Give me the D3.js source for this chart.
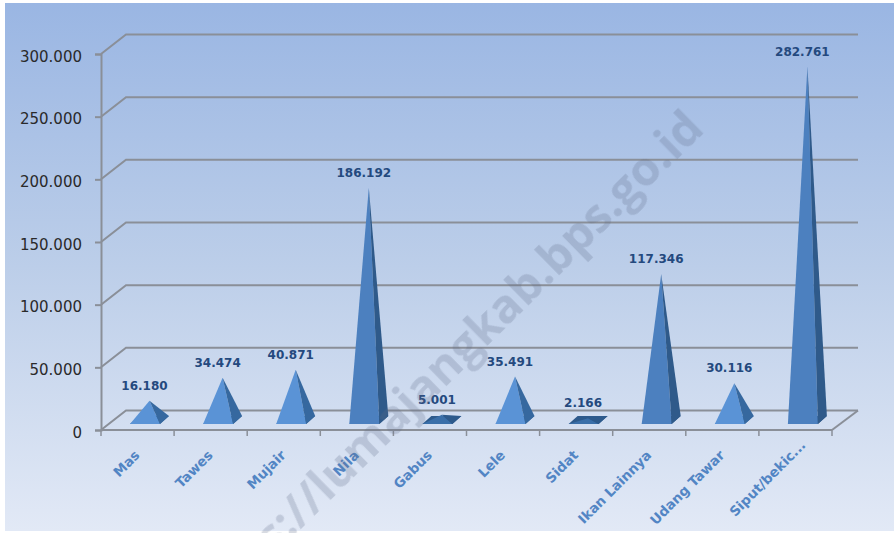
<!DOCTYPE html>
<html><head><meta charset="utf-8">
<script src="https://cdnjs.cloudflare.com/ajax/libs/d3/7.8.5/d3.min.js"></script>
<style>html,body{margin:0;padding:0;background:#fff}svg{display:block;filter:blur(0.4px)}</style>
</head><body><svg id="c" width="895" height="533"></svg>
<script>
const categories=["Mas","Tawes","Mujair","Nila","Gabus","Lele","Sidat","Ikan Lainnya","Udang Tawar","Siput/bekic..."];
const values=[16180,34474,40871,186192,5001,35491,2166,117346,30116,282761];
const valueLabels=["16.180","34.474","40.871","186.192","5.001","35.491","2.166","117.346","30.116","282.761"];
const yTicks=[0,50000,100000,150000,200000,250000,300000];
const fmt=d=>d===0?"0":d3.format(",")(d).replace(/,/g,".");

const svg=d3.select("#c");
const defs=svg.append("defs");
const bg=defs.append("linearGradient").attr("id","bg").attr("x1",0).attr("y1",0).attr("x2",0).attr("y2",1);
bg.append("stop").attr("offset",0).attr("stop-color","#9ab6e3");
bg.append("stop").attr("offset",.5).attr("stop-color","#bccee9");
bg.append("stop").attr("offset",1).attr("stop-color","#e2e9f6");
svg.append("rect").attr("x",5).attr("y",3).attr("width",889).attr("height",528).attr("fill","url(#bg)");

const x=d3.scaleBand().domain(categories).range([101,832]);
const y=d3.scaleLinear().domain([0,300000]).range([430,54]);
const depthX=25,depthY=19.5,gridCol="#8a8f98";

const grid=svg.append("g").attr("fill","none").attr("stroke",gridCol).attr("stroke-width",2);
grid.selectAll("path").data(yTicks).join("path")
 .attr("d",d=>`M${x.range()[0]},${y(d)}L${x.range()[0]+depthX},${y(d)-depthY}L${x.range()[1]+depthX+1},${y(d)-depthY}`);
grid.append("path").attr("d",`M${x.range()[1]},${y(0)}L${x.range()[1]+depthX+1},${y(0)-depthY}`);

// axes
const ax=svg.append("g").attr("transform","translate(101,0)")
 .call(d3.axisLeft(y).tickValues(yTicks).tickFormat(fmt).tickSize(6).tickPadding(13));
ax.select(".domain").attr("stroke",gridCol).attr("stroke-width",2);
ax.selectAll("line").attr("stroke",gridCol).attr("stroke-width",2);
ax.selectAll("text").attr("font-family","DejaVu Sans").attr("font-size",15).attr("fill","#2a2a2a").attr("dy","0.47em");

const bx=svg.append("g").attr("transform",`translate(0,${y(0)})`)
 .call(d3.axisBottom(x).tickSize(0).tickFormat(""));
bx.select(".domain").attr("stroke",gridCol).attr("stroke-width",2).attr("d",`M${x.range()[0]},0H${x.range()[1]}`);
svg.append("g").attr("stroke",gridCol).attr("stroke-width",1.5).selectAll("line")
 .data(d3.range(categories.length+1)).join("line")
 .attr("x1",i=>x.range()[0]+i*x.step()).attr("x2",i=>x.range()[0]+i*x.step())
 .attr("y1",y(0)).attr("y2",y(0)+6);

// pyramids
const col=v=>v>100000?"#4c80bf":v>10000?"#5a93d6":"#3a6fa9";
const sideCol=v=>v>100000?"#2f5a8a":v>10000?"#36689f":"#2d5a8c";
const g=svg.append("g");
categories.forEach((c,i)=>{
  const v=values[i], l=x(c)+29, r=l+30, d=9, b=y(0)-6;
  const ax0=(l+r+d)/2, ay=y(v)-9;
  const P=a=>a.map(p=>p.join(",")).join(" ");
  g.append("polygon").attr("points",P([[l,b],[r,b],[r+d,b-8],[l+d,b-8]])).attr("fill",sideCol(v));
  g.append("polygon").attr("points",P([[l,b],[r,b],[ax0,ay]])).attr("fill",col(v));
  g.append("polygon").attr("points",P([[r,b],[r+d,b-8],[ax0,ay]])).attr("fill",sideCol(v));
});

// value labels
svg.append("g").selectAll("text").data(categories).join("text")
 .attr("x",c=>x(c)+43.5).attr("y",(c,i)=>y(values[i])-20)
 .attr("text-anchor","middle").attr("font-family","DejaVu Sans").attr("font-weight","bold")
 .attr("font-size",12).attr("fill","#24497e").text((c,i)=>valueLabels[i]);

// category labels (the truncated last label sits closer to the axis)
svg.append("g").selectAll("text").data(categories).join("text")
 .attr("transform",c=>{
   const t=c.endsWith("...");
   return `translate(${x(c)+x.bandwidth()/2+(t?11:3)},${t?446:456}) rotate(-45)`;
 })
 .attr("text-anchor","end").attr("font-family","DejaVu Sans").attr("font-weight","bold")
 .attr("font-size",13.5).attr("fill","#5285c4").text(c=>c);

// watermark
svg.append("text").attr("transform","translate(706,131) rotate(-44.5)").attr("text-anchor","end")
 .attr("font-family","Open Sans").attr("font-weight","bold").attr("font-size",47)
 .attr("fill","#5a6a85").attr("fill-opacity",.24).text("https://lumajangkab.bps.go.id");
</script></body></html>
